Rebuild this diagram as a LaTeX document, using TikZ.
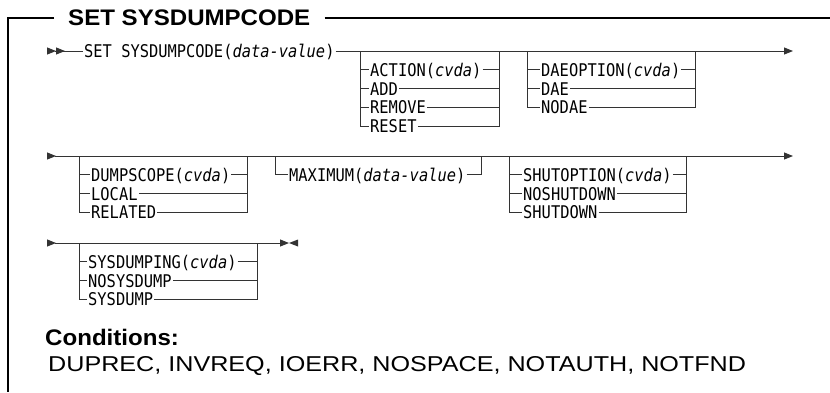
\documentclass[tikz,border=0pt]{standalone}
\usepackage{fontspec}
\usepackage{graphicx}
\usetikzlibrary{arrows.meta}
\newfontfamily\railfont[FakeStretch=0.88]{DejaVu Sans Mono}
\newfontfamily\headfont{Liberation Sans}
\newfontfamily\condfont[FakeStretch=1.17]{Liberation Sans}
\begin{document}
\begin{tikzpicture}[x=1pt, y=-1pt,
    rail/.style={black!80, line width=0.9pt},
    frame/.style={black, line width=1.3pt},
    opt/.style={anchor=west, inner xsep=1pt, inner ysep=0pt, text height=12.8pt, text depth=0pt,
      font={\railfont\fontsize{17.5pt}{20pt}\selectfont}},
    head/.style={inner ysep=0pt, font={\headfont\bfseries\fontsize{22.5pt}{26pt}\selectfont}},
    cond/.style={anchor=base west, inner sep=0pt, font={\condfont\fontsize{21.5pt}{26pt}\selectfont}},
    beg/.style={arrows={Triangle[reversed,length=9pt,width=7pt]-}},
    beg2/.style={arrows={Triangle[reversed,length=9pt,width=7pt]Triangle[reversed,length=9pt,width=7pt]-}},
    fin/.style={arrows={-Triangle[length=9pt,width=7pt]}}]
  \useasboundingbox (0,0) rectangle (830,392);
  % open frame with heading
  \node[head, anchor=west, inner xsep=14pt] (title) at (54,18) {\scalebox{1.07}[1]{SET SYSDUMPCODE}};
  \coordinate (corner) at (8,18);
  \coordinate (fbot) at (8,392);
  \coordinate (fend) at (830,18);
  \draw[frame] (title.west) -- (corner) -- (fbot);
  \draw[frame] (title.east) -- (fend);
  % main rails
  \node[opt] (setcmd) at (83,51) {SET SYSDUMPCODE(\textit{data-value})};
  \coordinate (r1s) at (47,51);
  \coordinate (r1e) at (793,51);
  \coordinate (r2s) at (47,156);
  \coordinate (r2e) at (793,156);
  \coordinate (r3s) at (47,243);
  \coordinate (r3e) at (289,243);
  % option stacks
  \foreach \g/\xl/\xt/\xr/\ym/\items in {
      a/360/369/499/51/{ACTION(\textit{cvda}),ADD,REMOVE,RESET},
      b/527/540/695/51/{DAEOPTION(\textit{cvda}),DAE,NODAE},
      c/79/90/247/156/{DUMPSCOPE(\textit{cvda}),LOCAL,RELATED},
      d/275/288/481/156/{MAXIMUM(\textit{data-value})},
      e/509/522/686/156/{SHUTOPTION(\textit{cvda}),NOSHUTDOWN,SHUTDOWN},
      f/79/87/257/243/{SYSDUMPING(\textit{cvda}),NOSYSDUMP,SYSDUMP}} {
    \coordinate (top\g) at (\xl,\ym);
    \coordinate (end\g) at (\xr,\ym);
    \foreach \lab [count=\i] in \items {
      \node[opt] (\g\i) at (\xt,\ym+18.8*\i) {\lab};
      \draw[rail] (top\g) |- (\g\i.west);
      \draw[rail] (\g\i.east) -| (end\g);
    }
  }
  \draw[rail, beg2] (r1s) -- (setcmd.west);
  \draw[rail, fin] (setcmd.east) -- (r1e);
  \draw[rail, beg] (r2s) -- (topc);
  \draw[rail, fin] (topc) -- (r2e);
  \draw[rail, beg] (r3s) -- (topf);
  \draw[rail, fin] (topf) -- (r3e);
  \fill[black!80] (r3e) -- ++(9,-3.5) -- ++(0,7) -- cycle;
  % conditions
  \node[head, anchor=base west, inner sep=0pt] (condhead) at (45,345) {\scalebox{1.07}[1]{Conditions:}};
  \node[cond] (condlist) at (48,371) {DUPREC, INVREQ, IOERR, NOSPACE, NOTAUTH, NOTFND};
\end{tikzpicture}
\end{document}
